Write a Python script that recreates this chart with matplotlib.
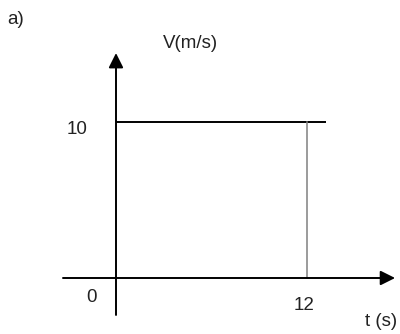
import matplotlib.pyplot as plt

# velocity-time sketch: constant speed of 10 m/s up to t = 12 s
t_line = [0, 13.2]
v_line = [10, 10]
t_mark = 12
v_mark = 10

label_panel = "a)"
label_v = "V(m/s)"
label_t = "t (s)"
tick_v = "10"
tick_t = "12"
tick_origin = "0"

plt.rcParams['font.family'] = ['Liberation Sans', 'DejaVu Sans']

fig = plt.figure(figsize=(4, 3.34), dpi=100)
ax = fig.add_axes([0, 0, 1, 1])
# scale: ~15.9 px per second, ~15.6 px per m/s, origin at pixel (116, 278)
ax.set_xlim(-116 / 15.92, (400 - 116) / 15.92)
ax.set_ylim(-(334 - 278) / 15.6, 278 / 15.6)
ax.axis('off')

# axes with arrows
arrow = dict(arrowstyle='-|>', mutation_scale=22, lw=1.4, color='black',
             shrinkA=0, shrinkB=0)
ax.annotate('', xy=(17.53, 0), xytext=(-3.33, 0), arrowprops=arrow)
ax.annotate('', xy=(0, 14.42), xytext=(0, -2.37), arrowprops=arrow)

# the velocity line and the drop line at t = 12
ax.plot(t_line, v_line, color='black', lw=1.4, solid_capstyle='butt')
ax.plot([t_mark, t_mark], [0, v_mark], color='#808080', lw=1.1)

txt = dict(fontsize=13.5, color='#222222', ha='center', va='center')
ax.text(-2.45, 9.55, tick_v, **txt)
ax.text(-1.51, -1.28, tick_origin, **txt)
ax.text(11.81, -1.79, tick_t, **txt)
ax.text(16.65, -2.82, label_t, **txt)
ax.text(4.65, 15.0, label_v, **txt)
ax.text(-6.28, 16.54, label_panel, **txt)

fig.savefig('out.png', dpi=100)
